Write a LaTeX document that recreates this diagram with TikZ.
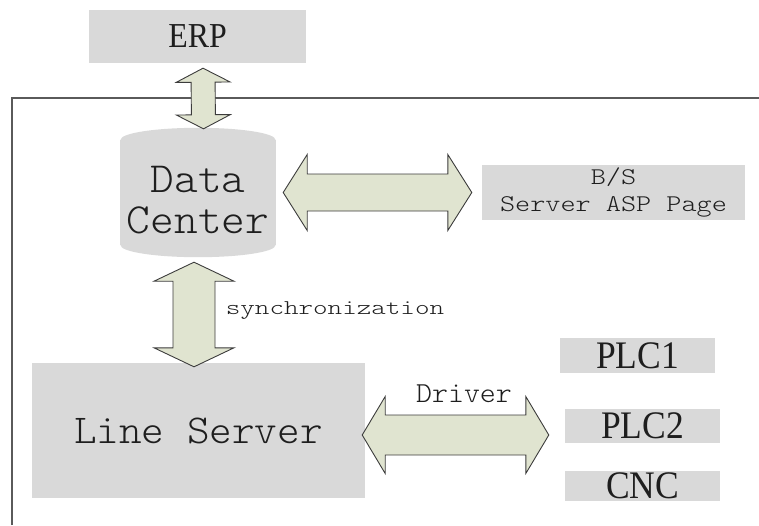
\documentclass[tikz,border=0pt]{standalone}
\usepackage{fontspec}
\usetikzlibrary{calc,backgrounds}
\newfontfamily\labelserif[FakeStretch=0.91]{Liberation Serif}
\newfontfamily\monobig[FakeStretch=1.05]{Latin Modern Mono Light}
\newfontfamily\monosmall[FakeStretch=1.32]{Latin Modern Mono Light}
\newfontfamily\monomid[FakeStretch=1.2]{Latin Modern Mono Light}
\definecolor{boxgray}{HTML}{D9D9D9}
\definecolor{arrowfill}{HTML}{E0E4D0}
\definecolor{arrowline}{HTML}{3C3C3C}
\definecolor{frameline}{HTML}{5A5A5A}
\definecolor{textgray}{HTML}{1E1E1E}

% double-headed block arrow between two tips:
% #1,#2 tips, #3 half shaft width, #4 half head width, #5 head length
\newcommand\twoway[5]{%
  \path ($(#1)!#5!(#2)$) coordinate (tw-a) ($(#2)!#5!(#1)$) coordinate (tw-b);
  \draw[blockarrow] (#1) -- ($(tw-a)!#4!90:(#2)$) -- ($(tw-a)!#3!90:(#2)$)
    -- ($(tw-b)!#3!-90:(#1)$) -- ($(tw-b)!#4!-90:(#1)$) -- (#2)
    -- ($(tw-b)!#4!90:(#1)$) -- ($(tw-b)!#3!90:(#1)$)
    -- ($(tw-a)!#3!-90:(#2)$) -- ($(tw-a)!#4!-90:(#2)$) -- cycle;}

\tikzset{
  graybox/.style={fill=boxgray, draw=none, inner sep=0pt, align=center, text=textgray},
  blockarrow/.style={fill=arrowfill, draw=arrowline, line width=0.9pt, line join=miter},
  devtext/.style={font=\labelserif\fontsize{39}{40}\selectfont},
}

\begin{document}
\begin{tikzpicture}[x=1pt, y=-1pt]
\useasboundingbox (0,0) rectangle (759,525);

% system boundary
\draw[frameline, line width=1.3pt] (12,525) -- (12,98) -- (759,98);

% boxes
\node[graybox, minimum width=217, minimum height=53,
      font=\labelserif\fontsize{35}{36}\selectfont] (erp) at (197.5,36.5) {ERP};
% database drawn as a cylinder behind its text
\node[graybox, fill=none, minimum width=155, minimum height=105,
      font=\monobig\fontsize{43}{41}\selectfont] (dc) at (198,200.5) {Data\\Center};
\begin{scope}[on background layer]
  \fill[boxgray] ($(dc.north west)+(0,-8)$) rectangle ($(dc.south east)+(0,-8)$);
  \fill[boxgray] ($(dc.north)+(0,-8)$) ellipse [x radius=77.5pt, y radius=12pt];
  \fill[boxgray] ($(dc.south)+(0,-8)$) ellipse [x radius=77.5pt, y radius=12pt];
\end{scope}
\node[graybox, minimum width=263, minimum height=55,
      font=\monomid\fontsize{24}{27}\selectfont] (bs) at (613.5,192.5) {B/S\\Server ASP Page};
\node[graybox, minimum width=333, minimum height=135,
      font=\monobig\fontsize{41}{41}\selectfont] (ls) at (198.5,430.5) {Line Server};
\node[graybox, minimum width=155, minimum height=35, devtext] (plc1) at (637.5,355.5) {PLC1};
\node[graybox, minimum width=155, minimum height=34, devtext] (plc2) at (642.5,426) {PLC2};
\node[graybox, minimum width=155, minimum height=30, devtext] (cnc) at (642.5,486) {CNC};

% connector end points
\coordinate (erp-dc-a) at ($(erp.south)+(5.5,5)$);
\coordinate (erp-dc-b) at ($(dc.north)+(5.5,-19)$);
\coordinate (dc-bs-a) at ($(dc.east)+(7.5,-8)$);
\coordinate (dc-bs-b) at ($(bs.west)+(-10,0)$);
\coordinate (dc-ls-a) at ($(dc.south)+(-4,9)$);
\coordinate (dc-ls-b) at ($(ls.north)+(-4.5,4)$);
\coordinate (ls-plc-a) at ($(ls.east)+(-3,4.5)$);
\coordinate (ls-plc-b) at ($(plc2.west)+(-16,9)$);

% connectors
\twoway{erp-dc-a}{erp-dc-b}{12pt}{27pt}{14pt}
\twoway{dc-bs-a}{dc-bs-b}{18.5pt}{38pt}{24pt}
\twoway{dc-ls-a}{dc-ls-b}{21pt}{40pt}{19pt}
\twoway{ls-plc-a}{ls-plc-b}{20pt}{38.5pt}{23pt}

% connector labels
\node[font=\monosmall\fontsize{21}{24}\selectfont, text=textgray, inner sep=0pt] (synclbl) at (335,311) {synchronization};
\node[font=\monobig\fontsize{29}{32}\selectfont, text=textgray, inner sep=0pt] (drvlbl) at (464,394) {Driver};
\end{tikzpicture}
\end{document}
